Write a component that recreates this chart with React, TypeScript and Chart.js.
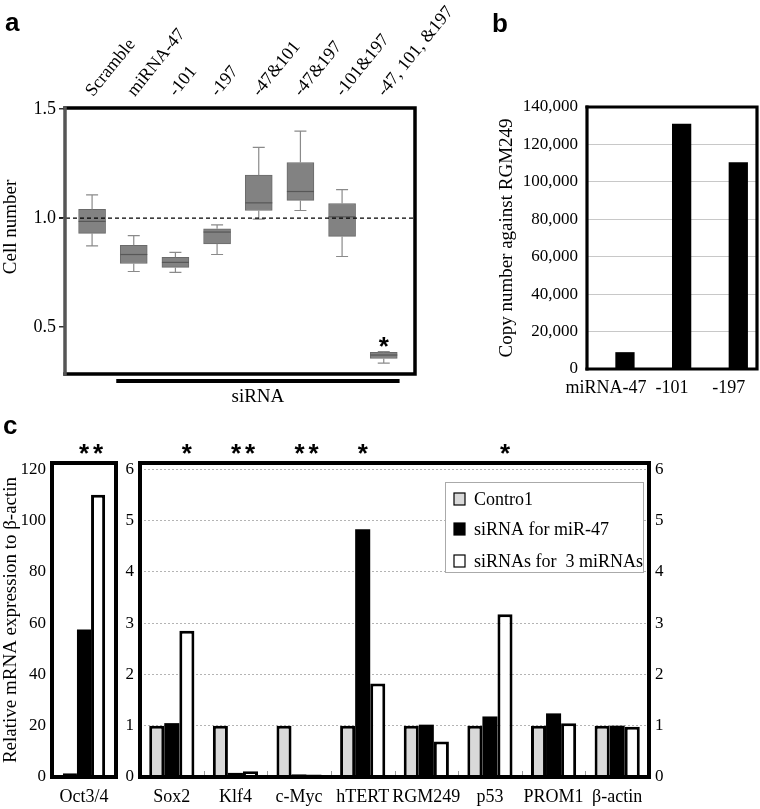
import React, { useEffect, useRef } from "react";
import { Chart, registerables } from "chart.js";

Chart.register(...registerables);

const SERIF = "'Liberation Serif', 'Times New Roman', serif";
const SANS = "'Liberation Sans', Arial, sans-serif";

// ---------- Panel a : box plots of cell number ----------
const A_GROUPS = ["Scramble", "miRNA-47", "-101", "-197", "-47&101", "-47&197", "-101&197", "-47, 101, &197"];
const A_WHISKER_LOW = [0.873, 0.755, 0.751, 0.833, 0.995, 1.035, 0.824, 0.335];
const A_Q1 = [0.93, 0.792, 0.774, 0.882, 1.035, 1.081, 0.916, 0.356];
const A_MEDIAN = [0.985, 0.833, 0.797, 0.936, 1.07, 1.122, 1.006, 0.372];
const A_Q3 = [1.04, 0.875, 0.82, 0.951, 1.197, 1.255, 1.067, 0.384];
const A_WHISKER_HIGH = [1.107, 0.92, 0.843, 0.969, 1.324, 1.399, 1.131, 0.388];
const A_SIG = ["", "", "", "", "", "", "", "*"];
const A_Y_TICKS = [0.5, 1.0, 1.5];
const A_REFERENCE = 1.0;
const A_BRACKET_LABEL = "siRNA";
const A_BRACKET_FROM = 1; // first siRNA group
const A_BRACKET_TO = 7; // last siRNA group

// ---------- Panel b : copy number ----------
const B_CATEGORIES = ["miRNA-47", "-101", "-197"];
const B_VALUES = [9000, 131000, 110500];

// ---------- Panel c : relative mRNA expression ----------
const C_SERIES = ["Contro1", "siRNA for miR-47", "siRNAs for  3 miRNAs"];
const C_LEFT_CATEGORIES = ["Oct3/4"];
const C_LEFT_CONTROL = [1.5];
const C_LEFT_MIR47 = [57.5];
const C_LEFT_3MIR = [110];
const C_LEFT_SIG = ["**"];
const C_LEFT_SIG_AT = [1.5];
const C_CATEGORIES = ["Sox2", "Klf4", "c-Myc", "hTERT", "RGM249", "p53", "PROM1", "β-actin"];
const C_CONTROL = [1, 1, 1, 1, 1, 1, 1, 1];
const C_MIR47 = [1.05, 0.08, 0.05, 4.83, 1.02, 1.18, 1.24, 1.0];
const C_3MIR = [2.85, 0.11, 0.05, 1.82, 0.69, 3.17, 1.05, 0.98];
const C_SIG = ["*", "**", "**", "*", "", "*", "", ""];
const C_SIG_AT = [2, 1.5, 1.5, 1, 0, 2, 0, 0];

const SERIES_FILL = ["#d9d9d9", "#000000", "#ffffff"];
const SERIES_BORDER = [3, 0, 3];

function glyphAt(ctx: CanvasRenderingContext2D, text: string, cx: number, cy: number, font: string) {
  ctx.save();
  ctx.font = font;
  ctx.fillStyle = "#000";
  ctx.textAlign = "center";
  ctx.textBaseline = "alphabetic";
  const m = ctx.measureText(text);
  const base = cy + (m.actualBoundingBoxAscent - m.actualBoundingBoxDescent) / 2;
  ctx.fillText(text, cx, base);
  ctx.restore();
}

function stars(ctx: CanvasRenderingContext2D, mark: string, cx: number, cy: number) {
  const n = mark.length;
  const gap = 14;
  for (let k = 0; k < n; k++) {
    glyphAt(ctx, "*", cx + (k - (n - 1) / 2) * gap, cy, `bold 26px ${SANS}`);
  }
}

function letter(ctx: CanvasRenderingContext2D, t: string, x: number, y: number) {
  ctx.save();
  ctx.font = `bold 26px ${SANS}`;
  ctx.fillStyle = "#000";
  ctx.textAlign = "left";
  ctx.textBaseline = "alphabetic";
  ctx.fillText(t, x, y);
  ctx.restore();
}

function frame(ctx: CanvasRenderingContext2D, area: any, w: number, leftColor = "#000") {
  ctx.save();
  ctx.lineWidth = w;
  ctx.strokeStyle = "#000";
  ctx.lineCap = "square";
  ctx.beginPath();
  ctx.moveTo(area.left, area.top);
  ctx.lineTo(area.right, area.top);
  ctx.lineTo(area.right, area.bottom);
  ctx.lineTo(area.left, area.bottom);
  ctx.stroke();
  ctx.strokeStyle = leftColor;
  ctx.beginPath();
  ctx.moveTo(area.left, area.bottom);
  ctx.lineTo(area.left, area.top);
  ctx.stroke();
  ctx.restore();
}

function makeA(canvas: HTMLCanvasElement) {
  const extras = {
    id: "boxExtras",
    afterDatasetsDraw(chart: any) {
      const { ctx, chartArea: a } = chart;
      const xs = chart.scales.x;
      const ys = chart.scales.y;
      ctx.save();
      A_GROUPS.forEach((_, i) => {
        const x = xs.getPixelForValue(i);
        const hi = ys.getPixelForValue(A_WHISKER_HIGH[i]);
        const q3 = ys.getPixelForValue(A_Q3[i]);
        const q1 = ys.getPixelForValue(A_Q1[i]);
        const lo = ys.getPixelForValue(A_WHISKER_LOW[i]);
        const md = ys.getPixelForValue(A_MEDIAN[i]);
        ctx.strokeStyle = "#8a8a8a";
        ctx.lineWidth = 1.2;
        ctx.beginPath();
        ctx.moveTo(x, q3);
        ctx.lineTo(x, hi);
        ctx.moveTo(x - 6, hi);
        ctx.lineTo(x + 6, hi);
        ctx.moveTo(x, q1);
        ctx.lineTo(x, lo);
        ctx.moveTo(x - 6, lo);
        ctx.lineTo(x + 6, lo);
        ctx.stroke();
        ctx.strokeStyle = "#575757";
        ctx.beginPath();
        ctx.moveTo(x - 13.5, md);
        ctx.lineTo(x + 13.5, md);
        ctx.stroke();
      });
      const yr = ys.getPixelForValue(A_REFERENCE);
      ctx.strokeStyle = "#000";
      ctx.lineWidth = 1.3;
      ctx.setLineDash([4, 3]);
      ctx.beginPath();
      ctx.moveTo(a.left - 6, yr);
      ctx.lineTo(a.right, yr);
      ctx.stroke();
      ctx.restore();
    },
    afterDraw(chart: any) {
      const { ctx, chartArea: a } = chart;
      const xs = chart.scales.x;
      const ys = chart.scales.y;
      frame(ctx, a, 3.5, "#555");
      // y title
      ctx.save();
      ctx.translate(11, 227);
      ctx.rotate(-Math.PI / 2);
      ctx.font = `19px ${SERIF}`;
      ctx.fillStyle = "#000";
      ctx.textAlign = "center";
      ctx.textBaseline = "middle";
      ctx.fillText("Cell number", 0, 0);
      ctx.restore();
      // significance
      A_SIG.forEach((m, i) => {
        if (!m) return;
        stars(ctx, m, xs.getPixelForValue(i), ys.getPixelForValue(A_WHISKER_HIGH[i]) - 10);
      });
      // siRNA bracket
      const x1 = xs.getPixelForValue(A_BRACKET_FROM - 0.42);
      const x2 = xs.getPixelForValue(A_BRACKET_TO + 0.38);
      ctx.save();
      ctx.strokeStyle = "#000";
      ctx.lineWidth = 4;
      ctx.beginPath();
      ctx.moveTo(x1, a.bottom + 7);
      ctx.lineTo(x2, a.bottom + 7);
      ctx.stroke();
      ctx.font = `19px ${SERIF}`;
      ctx.fillStyle = "#000";
      ctx.textAlign = "center";
      ctx.textBaseline = "middle";
      ctx.fillText(A_BRACKET_LABEL, (x1 + x2) / 2, a.bottom + 23);
      ctx.restore();
      letter(ctx, "a", 5, 31);
    },
  };
  return new Chart(canvas, {
    type: "bar",
    data: {
      datasets: [
        {
          data: A_GROUPS.map((_, i) => ({ x: i, y: [A_Q1[i], A_Q3[i]] })) as any,
          backgroundColor: "#828282",
          borderColor: "#6a6a6a",
          borderWidth: 1,
          borderSkipped: false,
          barThickness: 27,
        },
      ],
    },
    options: {
      responsive: false,
      animation: false,
      events: [],
      layout: { padding: { left: 0, right: 55, top: 0, bottom: 46 } },
      plugins: { legend: { display: false }, tooltip: { enabled: false } },
      scales: {
        x: {
          type: "linear",
          position: "top",
          min: -0.65,
          max: 7.75,
          offset: false,
          afterBuildTicks: (s: any) => {
            s.ticks = A_GROUPS.map((_, i) => ({ value: i }));
          },
          afterFit: (s: any) => {
            s.height = 108;
          },
          grid: { display: false, drawTicks: false, offset: false },
          border: { display: false },
          ticks: {
            autoSkip: false,
            minRotation: 51,
            maxRotation: 51,
            padding: 7,
            labelOffset: 14,
            color: "#000",
            font: { family: SERIF, size: 18 },
            callback: (v: any) => A_GROUPS[v] ?? "",
          },
        },
        y: {
          min: 0.285,
          max: 1.505,
          afterBuildTicks: (s: any) => {
            s.ticks = A_Y_TICKS.map((v) => ({ value: v }));
          },
          afterFit: (s: any) => {
            s.width = 65;
          },
          grid: { drawOnChartArea: false, drawTicks: true, tickLength: 6, color: "#333", lineWidth: 1.5 },
          border: { display: false },
          ticks: {
            padding: 3,
            color: "#000",
            font: { family: SERIF, size: 18 },
            callback: (v: any) => Number(v).toFixed(1),
          },
        },
      },
    } as any,
    plugins: [extras],
  });
}

function makeB(canvas: HTMLCanvasElement) {
  const extras = {
    id: "bExtras",
    afterDraw(chart: any) {
      const { ctx, chartArea: a } = chart;
      const xs = chart.scales.x;
      frame(ctx, a, 3.2);
      letter(ctx, "b", 22, 32);
      // category labels, nudged apart where they would collide
      ctx.save();
      ctx.font = `18px ${SERIF}`;
      ctx.fillStyle = "#000";
      ctx.textAlign = "center";
      ctx.textBaseline = "middle";
      const items = B_CATEGORIES.map((t, i) => ({ t, w: ctx.measureText(t).width, x: xs.getPixelForValue(i) }));
      for (let i = items.length - 2; i >= 0; i--) {
        const maxRight = items[i + 1].x - items[i + 1].w / 2 - 9;
        if (items[i].x + items[i].w / 2 > maxRight) items[i].x = maxRight - items[i].w / 2;
      }
      items.forEach((it) => ctx.fillText(it.t, it.x, a.bottom + 19));
      ctx.restore();
    },
  };
  return new Chart(canvas, {
    type: "bar",
    data: {
      labels: B_CATEGORIES,
      datasets: [
        {
          data: B_CATEGORIES.map(() => null),
          backgroundColor: "transparent",
          categoryPercentage: 0.68,
          barPercentage: 1,
        },
        {
          data: B_VALUES,
          backgroundColor: "#000",
          borderWidth: 0,
          categoryPercentage: 0.68,
          barPercentage: 1,
        },
      ],
    },
    options: {
      responsive: false,
      animation: false,
      events: [],
      layout: { padding: { left: 0, right: 3, top: 107, bottom: 0 } },
      plugins: { legend: { display: false }, tooltip: { enabled: false } },
      scales: {
        x: {
          afterFit: (s: any) => {
            s.height = 51;
          },
          grid: { display: false, drawTicks: false },
          border: { display: false },
          ticks: { display: false },
        },
        y: {
          min: 0,
          max: 140000,
          afterFit: (s: any) => {
            s.width = 117;
          },
          grid: { color: "#c8c8c8", lineWidth: 1, drawTicks: false },
          border: { display: false },
          ticks: {
            stepSize: 20000,
            padding: 9,
            color: "#000",
            font: { family: SERIF, size: 17 },
            callback: (v: any) => Number(v).toLocaleString("en-US"),
          },
          title: {
            display: true,
            text: "Copy number against RGM249",
            color: "#000",
            font: { family: SERIF, size: 19 },
            padding: { top: 26, bottom: 0 },
          },
        },
      },
    } as any,
    plugins: [extras],
  });
}

function seriesDatasets(values: number[][], catPct: number) {
  return values.map((v, s) => ({
    label: C_SERIES[s],
    data: v,
    backgroundColor: SERIES_FILL[s],
    borderColor: "#000",
    borderWidth: SERIES_BORDER[s],
    categoryPercentage: catPct,
    barPercentage: 1,
  }));
}

function sigPlugin(marks: string[], at: number[]) {
  return {
    id: "sig",
    afterDraw(chart: any) {
      const { ctx, chartArea: a } = chart;
      marks.forEach((m, i) => {
        if (!m) return;
        const s0 = Math.floor(at[i]);
        const s1 = Math.ceil(at[i]);
        const x0 = chart.getDatasetMeta(s0).data[i].x;
        const x1 = chart.getDatasetMeta(s1).data[i].x;
        const f = at[i] - s0;
        stars(ctx, m, x0 + (x1 - x0) * f, a.top - 14);
      });
    },
  };
}

function makeCLeft(canvas: HTMLCanvasElement) {
  const extras = {
    id: "cLeftExtras",
    afterDraw(chart: any) {
      frame(chart.ctx, chart.chartArea, 4);
      letter(chart.ctx, "c", 3, 24);
    },
  };
  return new Chart(canvas, {
    type: "bar",
    data: {
      labels: C_LEFT_CATEGORIES,
      datasets: seriesDatasets([C_LEFT_CONTROL, C_LEFT_MIR47, C_LEFT_3MIR], 0.66) as any,
    },
    options: {
      responsive: false,
      animation: false,
      events: [],
      layout: { padding: { left: 0, right: 4, top: 53, bottom: 0 } },
      plugins: { legend: { display: false }, tooltip: { enabled: false } },
      scales: {
        x: {
          afterFit: (s: any) => {
            s.height = 32;
          },
          grid: { display: false, drawTicks: false },
          border: { display: false },
          ticks: { padding: 9, color: "#000", font: { family: SERIF, size: 18 } },
        },
        y: {
          min: 0,
          max: 122.4,
          afterFit: (s: any) => {
            s.width = 52;
          },
          grid: { display: false, drawTicks: false },
          border: { display: false },
          ticks: { stepSize: 20, includeBounds: false, padding: 6, color: "#000", font: { family: SERIF, size: 17 } },
          title: {
            display: true,
            text: "Relative mRNA expression to β-actin",
            color: "#000",
            font: { family: SERIF, size: 19 },
            padding: { top: 0, bottom: 0 },
          },
        },
      },
    } as any,
    plugins: [extras, sigPlugin(C_LEFT_SIG, C_LEFT_SIG_AT)],
  });
}

function makeCRight(canvas: HTMLCanvasElement) {
  const extras = {
    id: "cRightExtras",
    afterDatasetsDraw(chart: any) {
      const { ctx, chartArea: a } = chart;
      const xs = chart.scales.x;
      ctx.save();
      ctx.strokeStyle = "#9a9a9a";
      ctx.lineWidth = 1;
      for (let k = 1; k < C_CATEGORIES.length; k++) {
        const x = Math.round((xs.getPixelForValue(k - 1) + xs.getPixelForValue(k)) / 2) + 0.5;
        ctx.beginPath();
        ctx.moveTo(x, a.bottom - 6);
        ctx.lineTo(x, a.bottom);
        ctx.stroke();
      }
      ctx.restore();
    },
    afterDraw(chart: any) {
      const { ctx, chartArea: a } = chart;
      frame(ctx, a, 4);
      // legend box
      const w = 198;
      const h = 90;
      const bx = a.right - 6 - w;
      const by = a.top + 19;
      ctx.save();
      ctx.fillStyle = "#fff";
      ctx.fillRect(bx, by, w, h);
      ctx.strokeStyle = "#aaaaaa";
      ctx.lineWidth = 1;
      ctx.strokeRect(Math.round(bx) + 0.5, Math.round(by) + 0.5, w, h);
      const rows = [17, 47, 79];
      chart.data.datasets.forEach((ds: any, s: number) => {
        const cy = by + rows[s];
        ctx.fillStyle = ds.backgroundColor;
        ctx.fillRect(bx + 9, cy - 6, 11, 12);
        ctx.strokeStyle = "#000";
        ctx.lineWidth = 1.2;
        ctx.strokeRect(bx + 9, cy - 6, 11, 12);
        ctx.fillStyle = "#000";
        ctx.font = `18px ${SERIF}`;
        ctx.textAlign = "left";
        ctx.textBaseline = "middle";
        ctx.fillText(ds.label, bx + 29, cy + 1);
      });
      ctx.restore();
    },
  };
  return new Chart(canvas, {
    type: "bar",
    data: {
      labels: C_CATEGORIES,
      datasets: seriesDatasets([C_CONTROL, C_MIR47, C_3MIR], 0.71) as any,
    },
    options: {
      responsive: false,
      animation: false,
      events: [],
      layout: { padding: { left: 0, right: 0, top: 53, bottom: 0 } },
      plugins: { legend: { display: false }, tooltip: { enabled: false } },
      scales: {
        x: {
          afterFit: (s: any) => {
            s.height = 32;
          },
          grid: { display: false, drawTicks: false },
          border: { display: false },
          ticks: { padding: 9, color: "#000", font: { family: SERIF, size: 18 }, autoSkip: false, maxRotation: 0 },
        },
        y: {
          min: 0,
          max: 6.12,
          afterFit: (s: any) => {
            s.width = 20;
          },
          grid: {
            drawTicks: false,
            lineWidth: 1,
            color: (c: any) => (c.tick && c.tick.value === 0 ? "rgba(0,0,0,0)" : "#b4b4b4"),
          },
          border: { display: false, dash: [2, 2] },
          ticks: { stepSize: 1, includeBounds: false, padding: 6, color: "#000", font: { family: SERIF, size: 17 } },
        },
        y2: {
          display: true,
          position: "right",
          min: 0,
          max: 6.12,
          afterFit: (s: any) => {
            s.width = 111;
          },
          grid: { drawOnChartArea: false, drawTicks: false },
          border: { display: false },
          ticks: { stepSize: 1, includeBounds: false, padding: 6, color: "#000", font: { family: SERIF, size: 17 } },
        },
      },
    } as any,
    plugins: [extras, sigPlugin(C_SIG, C_SIG_AT)],
  });
}

export default function App() {
  const aRef = useRef<HTMLCanvasElement>(null);
  const bRef = useRef<HTMLCanvasElement>(null);
  const clRef = useRef<HTMLCanvasElement>(null);
  const crRef = useRef<HTMLCanvasElement>(null);

  useEffect(() => {
    const charts = [
      makeA(aRef.current!),
      makeB(bRef.current!),
      makeCLeft(clRef.current!),
      makeCRight(crRef.current!),
    ];
    return () => charts.forEach((c) => c.destroy());
  }, []);

  const abs = (left: number, top: number, width: number, height: number): React.CSSProperties => ({
    position: "absolute",
    left,
    top,
    width,
    height,
    display: "block",
  });

  return (
    <div style={{ position: "absolute", left: 0, top: 0, width: 760, height: 809, background: "#fff", overflow: "hidden" }}>
      <canvas ref={aRef} width={470} height={420} style={abs(0, 0, 470, 420)} />
      <canvas ref={bRef} width={290} height={420} style={abs(470, 0, 290, 420)} />
      <canvas ref={clRef} width={120} height={399} style={abs(0, 410, 120, 399)} />
      <canvas ref={crRef} width={640} height={399} style={abs(120, 410, 640, 399)} />
    </div>
  );
}
